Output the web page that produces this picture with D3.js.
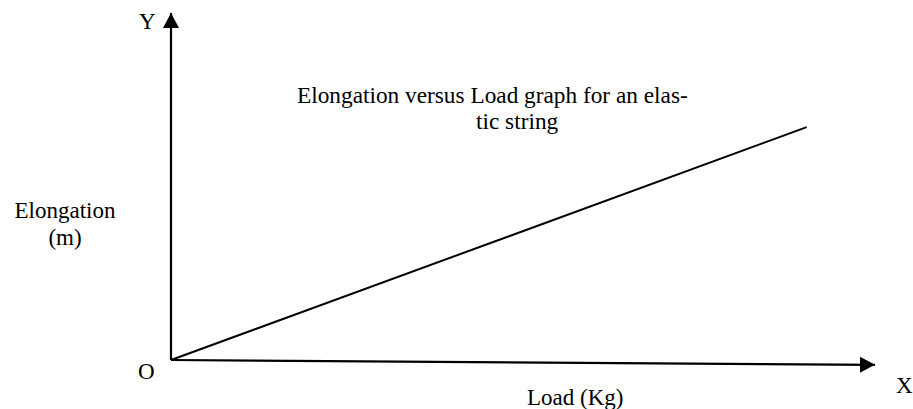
<!DOCTYPE html>
<html>
<head>
<meta charset="utf-8">
<script src="https://cdn.jsdelivr.net/npm/d3@7"></script>
<style>
  body { margin: 0; background: #fff; }
</style>
</head>
<body>
<script>
// data (no tick values are shown, so units are arbitrary)
const load = [0, 9.03];
const elongation = [0, 6.71];
// axis ends: [load, elongation]
const xAxisEnd = [10, -0.14];
const yAxisEnd = [0, 10];

const titleLines = ['Elongation versus Load graph for an elas-', 'tic string'];
const yTitleLines = ['Elongation', '(m)'];

const width = 913;
const height = 409;
const serif = "'Liberation Serif', 'Times New Roman', 'DejaVu Serif', serif";

const xScale = d3.scaleLinear().domain([0, 10]).range([171, 875]);
const yScale = d3.scaleLinear().domain([0, 10]).range([360, 13]);

const svg = d3.select('body')
  .append('svg')
  .attr('width', width)
  .attr('height', height)
  .style('font-family', serif);

svg.append('defs').append('marker')
  .attr('id', 'arrow')
  .attr('markerUnits', 'userSpaceOnUse')
  .attr('viewBox', '0 -9 16 18')
  .attr('refX', 15)
  .attr('refY', 0)
  .attr('markerWidth', 16)
  .attr('markerHeight', 18)
  .attr('orient', 'auto')
  .append('path')
  .attr('d', 'M0,-8L15,0L0,8Z')
  .attr('fill', '#000');

// axes
[xAxisEnd, yAxisEnd].forEach(end => {
  svg.append('line')
    .attr('x1', xScale(0))
    .attr('y1', yScale(0))
    .attr('x2', xScale(end[0]))
    .attr('y2', yScale(end[1]))
    .attr('stroke', '#000')
    .attr('stroke-width', 2.2)
    .attr('marker-end', 'url(#arrow)');
});

// elongation vs load line
const points = load.map((d, i) => [d, elongation[i]]);
svg.append('path')
  .datum(points)
  .attr('fill', 'none')
  .attr('stroke', '#000')
  .attr('stroke-width', 2)
  .attr('d', d3.line().x(d => xScale(d[0])).y(d => yScale(d[1])));

// labels
function label(x, y, txt) {
  svg.append('text')
    .attr('x', x)
    .attr('y', y)
    .style('font-family', serif)
    .style('font-size', '23px')
    .text(txt);
}
label(139, 29, 'Y');
label(138, 379, 'O');
label(896, 393, 'X');
label(527, 405, 'Load (Kg)');

svg.append('text')
  .attr('x', 65)
  .attr('y', 218)
  .style('font-family', serif)
  .style('font-size', '23px')
  .style('text-anchor', 'middle')
  .selectAll('tspan')
  .data(yTitleLines)
  .enter()
  .append('tspan')
  .attr('x', 65)
  .attr('dy', (d, i) => i === 0 ? 0 : 27)
  .text(d => d);

svg.append('text')
  .attr('class', 'chart-title')
  .attr('y', 103)
  .style('font-family', serif)
  .style('font-size', '23.3px')
  .selectAll('tspan')
  .data(titleLines)
  .enter()
  .append('tspan')
  .attr('x', (d, i) => i === 0 ? 297 : 476)
  .attr('dy', (d, i) => i === 0 ? 0 : 26)
  .text(d => d);
</script>
</body>
</html>
